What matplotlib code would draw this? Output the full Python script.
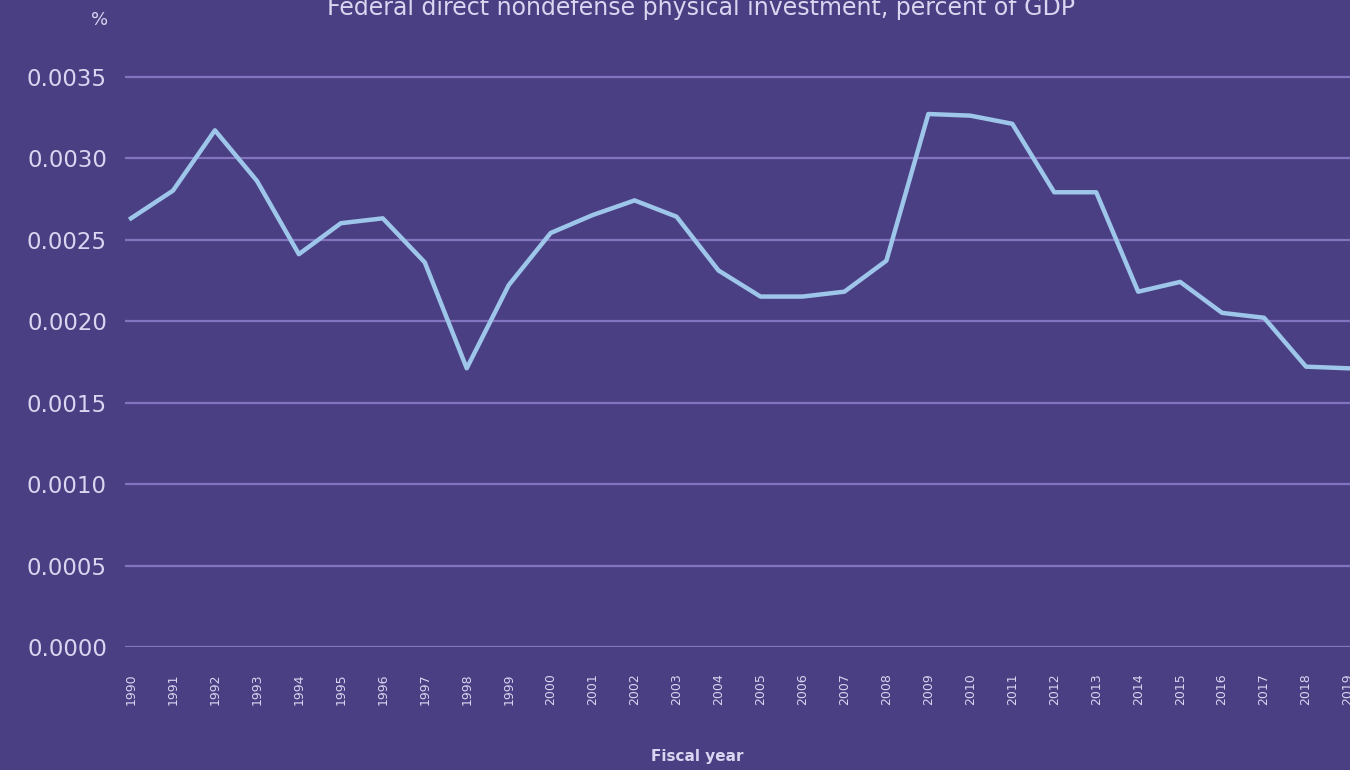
import matplotlib
matplotlib.use("Agg")
import matplotlib.pyplot as plt
from matplotlib.ticker import MultipleLocator, FormatStrFormatter

BG = "#4B3F83"
GRID = "#8374C0"
LINE = "#9DC6EA"
TXT = "#DAD5F0"

years = list(range(1990, 2020))
share = [
    0.00263, 0.00280, 0.00317, 0.00286, 0.00241, 0.00260, 0.00263, 0.00236,
    0.00171, 0.00222, 0.00254, 0.00265, 0.00274, 0.00264, 0.00231, 0.00215,
    0.00215, 0.00218, 0.00237, 0.00327, 0.00326, 0.00321, 0.00279, 0.00279,
    0.00218, 0.00224, 0.00205, 0.00202, 0.00172, 0.00171,
]
year_labels = [str(y) for y in years]

fig = plt.figure(figsize=(13.5, 7.7), dpi=100, facecolor=BG)
ax = fig.add_axes([0.0926, 0.1597, 0.9074, 0.7621], facecolor=BG)

ax.plot(years, share, color=LINE, lw=3.2, solid_joinstyle="round", zorder=3)

ax.set_xlim(1989.857, 2019.048)
ax.set_ylim(0, 0.0036)
ax.yaxis.set_major_locator(MultipleLocator(0.0005))
ax.yaxis.set_major_formatter(FormatStrFormatter("%.4f"))
ax.set_xticks(years)
ax.set_xticklabels(year_labels, rotation=90)
ax.grid(axis="y", color=GRID, lw=1.6)
ax.set_axisbelow(True)
for s in ax.spines.values():
    s.set_visible(False)
ax.tick_params(axis="y", length=0, pad=13, labelsize=16.5, labelcolor=TXT)
ax.tick_params(axis="x", length=0, pad=19, labelsize=9, labelcolor=TXT)

fig.text(0.519, 1 - 15 / 770, "Federal direct nondefense physical investment, percent of GDP",
         ha="center", va="baseline", fontsize=17, color=TXT)
fig.text(100 / 1350, 1 - 20 / 770, "%", ha="center", va="center", fontsize=13, color=TXT)
fig.text(697 / 1350, 1 - 757 / 770, "Fiscal year", ha="center", va="center",
         fontsize=11, fontweight="bold", color=TXT)

fig.savefig("out.png", dpi=100, facecolor=BG)
